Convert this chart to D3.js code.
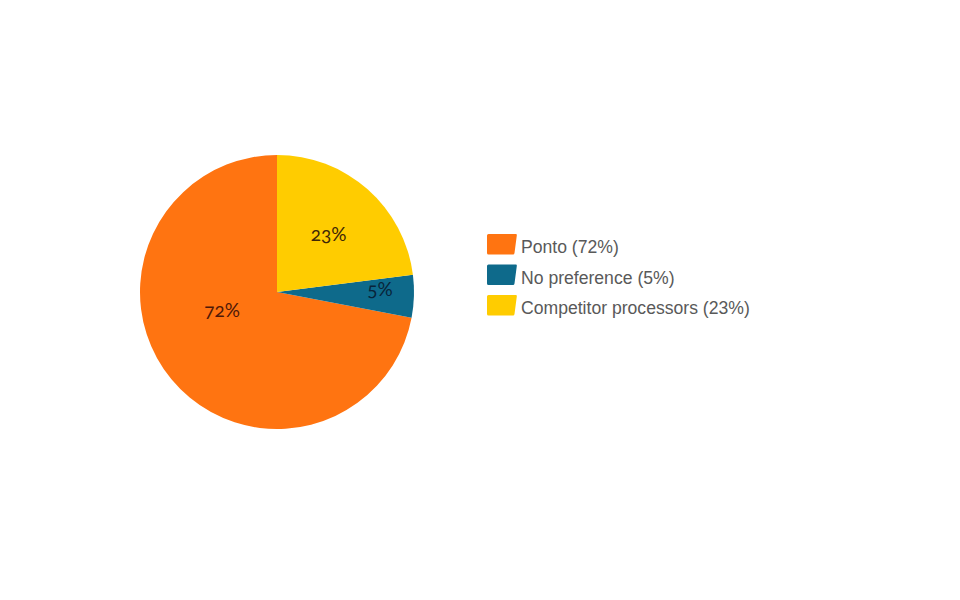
<!DOCTYPE html>
<html>
<head>
<meta charset="utf-8">
<script src="https://cdn.jsdelivr.net/npm/d3@7"></script>
<style>
  body { margin: 0; background: #fff; }
  .legend text { font-family: "Liberation Sans", Arial, sans-serif; font-size: 17.6px; fill: #595959; }
  .slice-label { font-family: Lato, "Open Sans", sans-serif; font-size: 19px; font-variant-numeric: oldstyle-nums; font-feature-settings: "onum"; }
</style>
</head>
<body>
<div id="chart"></div>
<script>
// data
var categories = ["Ponto", "No preference", "Competitor processors"];
var shares = [72, 5, 23];
var sliceColors = ["#ff7411", "#0e6a8b", "#ffcc00"];
var labelColors = ["#4e1808", "#08243a", "#3e2606"];

var svgWidth = 960;
var svgHeight = 600;

var cx = 277, cy = 292, radius = 137;

// where each percent label sits: angle (deg, clockwise from top) and distance from centre
var labelSpots = [
  { angle: 251.5, dist: 58 },
  { angle: 88.5, dist: 103 },
  { angle: 42, dist: 77 }
];

var svg = d3.select("#chart")
  .append("svg")
  .attr("width", svgWidth)
  .attr("height", svgHeight);

var pieGroup = svg.append("g")
  .attr("transform", `translate(${cx}, ${cy})`);

// slices run counter-clockwise from 12 o'clock
var pie = d3.pie()
  .sort(null)
  .startAngle(0)
  .endAngle(-2 * Math.PI)
  .value(d => d);

var arc = d3.arc()
  .innerRadius(0)
  .outerRadius(radius);

var arcs = pie(shares);

pieGroup.selectAll("path")
  .data(arcs)
  .enter()
  .append("path")
  .attr("d", arc)
  .attr("fill", (d, i) => sliceColors[i]);

pieGroup.selectAll(".slice-label")
  .data(arcs)
  .enter()
  .append("text")
  .attr("class", "slice-label")
  .attr("x", (d, i) => labelSpots[i].dist * Math.sin(labelSpots[i].angle * Math.PI / 180))
  .attr("y", (d, i) => -labelSpots[i].dist * Math.cos(labelSpots[i].angle * Math.PI / 180))
  .attr("text-anchor", "middle")
  .attr("dy", "0.35em")
  .attr("fill", (d, i) => labelColors[i])
  .text(d => d.data + "%");

// legend
var legend = svg.append("g")
  .attr("class", "legend")
  .attr("transform", "translate(487, 234)");

var rowStep = 30.5;

var rows = legend.selectAll("g")
  .data(categories)
  .enter()
  .append("g")
  .attr("transform", (d, i) => `translate(0, ${i * rowStep})`);

// slanted swatch like the original
rows.append("path")
  .attr("d", "M1.5,0 L29,0 Q30,0 29.8,1.5 L27.5,19 Q27.3,20.5 26,20.5 L1.5,20.5 Q0,20.5 0,19 L0,1.5 Q0,0 1.5,0 Z")
  .attr("fill", (d, i) => sliceColors[i]);

rows.append("text")
  .attr("x", 34)
  .attr("y", 19)
  .text((d, i) => `${d} (${shares[i]}%)`);
</script>
</body>
</html>
